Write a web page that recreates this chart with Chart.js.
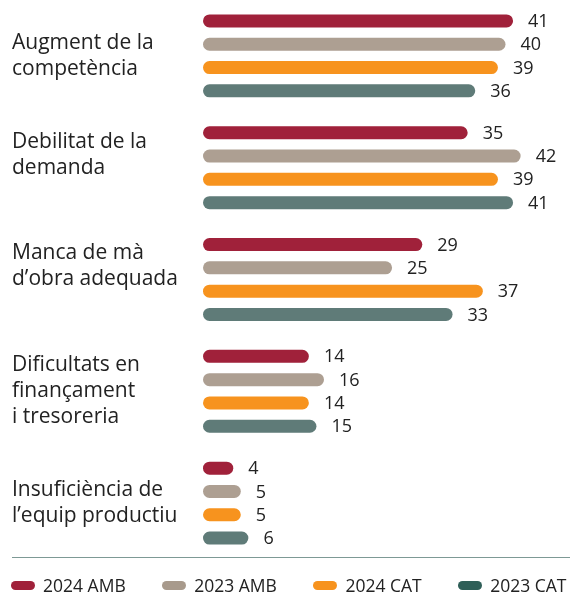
<!DOCTYPE html>
<html>
<head>
<meta charset="utf-8">
<script src="https://cdn.jsdelivr.net/npm/chart.js@4/dist/chart.umd.min.js"></script>
<style>
  body { margin: 0; background: #fff; font-family: "Open Sans", sans-serif; }
  #wrap { position: relative; width: 570px; height: 593px; }
  #chart { position: absolute; left: 0; top: 0; }
  #rule { position: absolute; left: 12px; top: 557px; width: 558px; height: 0; border-top: 1px solid #7d9995; }
  #legend { position: absolute; left: 11px; top: 573px; width: 600px; display: flex; gap: 36.5px; font-size: 17.5px; color: #222; white-space: nowrap; }
  #legend .item { display: flex; align-items: center; gap: 8px; line-height: 24px; flex-shrink: 0; }
  #legend .swatch { width: 24px; height: 9px; border-radius: 5px; flex-shrink: 0; }
</style>
</head>
<body>
<div id="wrap">
  <canvas id="chart" width="570" height="559"></canvas>
  <div id="rule"></div>
  <div id="legend"></div>
</div>
<script>
// an empty trailing line lifts a label a little above its bar group
const categories = [
  ['Augment de la', 'competència'],
  ['Debilitat de la', 'demanda', ''],
  ['Manca de mà', 'd\u2019obra adequada', ''],
  ['Dificultats en', 'finançament', 'i tresoreria'],
  ['Insuficiència de', 'l\u2019equip productiu']
];
const seriesNames = ['2024 AMB', '2023 AMB', '2024 CAT', '2023 CAT'];
const amb2024 = [41, 35, 29, 14, 4];
const amb2023 = [40, 42, 25, 16, 5];
const cat2024 = [39, 39, 37, 14, 5];
const cat2023 = [36, 41, 33, 15, 6];

const barColors = ['#a0213a', '#ad9f92', '#f7931e', '#5f7b78'];
const legendColors = ['#a0213a', '#a89a8c', '#f7931e', '#2f5f58'];

// numbers printed just past the end of each bar
const valueLabels = {
  id: 'valueLabels',
  afterDatasetsDraw(chart) {
    const ctx = chart.ctx;
    ctx.save();
    ctx.font = '18px "Open Sans"';
    ctx.fillStyle = '#222';
    ctx.textAlign = 'left';
    ctx.textBaseline = 'middle';
    chart.data.datasets.forEach((ds, i) => {
      chart.getDatasetMeta(i).data.forEach((bar, j) => {
        ctx.fillText(ds.data[j], bar.x + 15, bar.y + 1);
      });
    });
    ctx.restore();
  }
};

new Chart(document.getElementById('chart'), {
  type: 'bar',
  data: {
    labels: categories,
    datasets: [amb2024, amb2023, cat2024, cat2023].map((d, i) => ({
      label: seriesNames[i],
      data: d,
      backgroundColor: barColors[i],
      borderRadius: 7,
      borderSkipped: false,
      barPercentage: 0.558,
      categoryPercentage: 0.834
    }))
  },
  options: {
    indexAxis: 'y',
    responsive: false,
    animation: false,
    layout: { padding: { left: 12, right: 4, top: 0, bottom: 0 } },
    plugins: { legend: { display: false }, tooltip: { enabled: false } },
    scales: {
      x: { display: false, min: 0, max: 48 },
      y: {
        grid: { display: false },
        border: { display: false },
        afterFit(scale) {
          scale.width = 191;
          scale.paddingTop = 0;
          scale.paddingBottom = 0;
        },
        ticks: {
          crossAlign: 'far',
          padding: 0,
          color: '#222',
          font: { family: 'Open Sans', size: 21, lineHeight: '26px' }
        }
      }
    }
  },
  plugins: [valueLabels]
});

const legend = document.getElementById('legend');
seriesNames.forEach((name, i) => {
  const item = document.createElement('div');
  item.className = 'item';
  const sw = document.createElement('span');
  sw.className = 'swatch';
  sw.style.background = legendColors[i];
  const txt = document.createElement('span');
  txt.textContent = name;
  item.appendChild(sw);
  item.appendChild(txt);
  legend.appendChild(item);
});
</script>
</body>
</html>
